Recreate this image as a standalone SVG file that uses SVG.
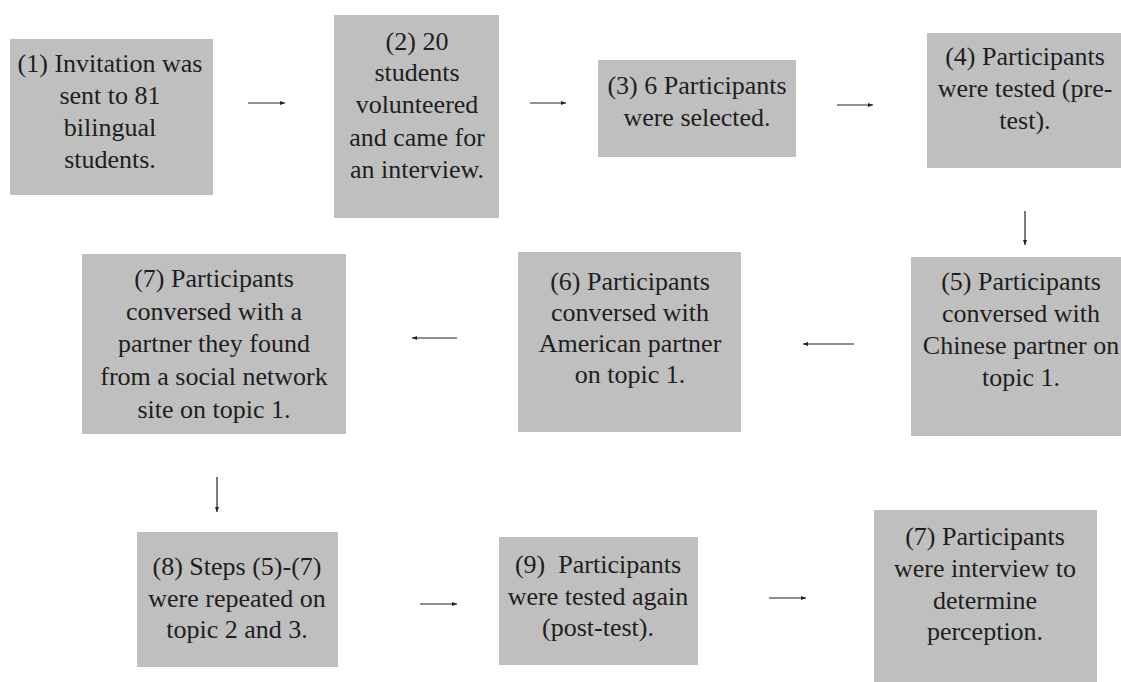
<svg xmlns="http://www.w3.org/2000/svg" width="1121" height="682" viewBox="0 0 1121 682">
<style>
.box{fill:#bfbfbf;}
.t{font-size:26px;fill:#1e1e1e;text-anchor:middle;}
.c{stroke:#222;stroke-width:1.2;fill:none;marker-end:url(#ah);}
</style>
<defs>
<marker id="ah" markerUnits="userSpaceOnUse" markerWidth="5" markerHeight="4" refX="5" refY="2" orient="auto">
<path d="M0,0 L5,2 L0,4 z" fill="#222"/>
</marker>
</defs>
<rect width="1121" height="682" fill="#ffffff"/>
<g id="connectors">
<line class="c" x1="248" y1="103" x2="285" y2="103"/>
<line class="c" x1="530" y1="103" x2="566" y2="103"/>
<line class="c" x1="837" y1="105" x2="873" y2="105"/>
<line class="c" x1="1025" y1="211" x2="1025" y2="245"/>
<line class="c" x1="854" y1="344" x2="803" y2="344"/>
<line class="c" x1="457" y1="338" x2="412" y2="338"/>
<line class="c" x1="217" y1="477" x2="217" y2="512"/>
<line class="c" x1="420" y1="604" x2="457" y2="604"/>
<line class="c" x1="769" y1="598" x2="806" y2="598"/>
</g>
<g font-family="Liberation Serif, DejaVu Serif, serif">
<g id="n1">
<rect class="box" x="10" y="39" width="203" height="156"/>
<text class="t" x="110" y="72">(1) Invitation was</text>
<text class="t" x="110" y="104">sent to 81</text>
<text class="t" x="110" y="136">bilingual</text>
<text class="t" x="110" y="168">students.</text>
</g>
<g id="n2">
<rect class="box" x="334" y="15" width="165" height="203"/>
<text class="t" x="417" y="50">(2) 20</text>
<text class="t" x="417" y="81">students</text>
<text class="t" x="417" y="113">volunteered</text>
<text class="t" x="417" y="146">and came for</text>
<text class="t" x="417" y="178">an interview.</text>
</g>
<g id="n3">
<rect class="box" x="598" y="60" width="198" height="97"/>
<text class="t" x="697" y="94">(3) 6 Participants</text>
<text class="t" x="697" y="126">were selected.</text>
</g>
<g id="n4">
<rect class="box" x="927" y="33" width="194" height="135"/>
<text class="t" x="1025" y="65">(4) Participants</text>
<text class="t" x="1025" y="97">were tested (pre-</text>
<text class="t" x="1025" y="129">test).</text>
</g>
<g id="n5">
<rect class="box" x="911" y="257" width="210" height="179"/>
<text class="t" x="1021" y="290">(5) Participants</text>
<text class="t" x="1021" y="322">conversed with</text>
<text class="t" x="1021" y="354">Chinese partner on</text>
<text class="t" x="1021" y="386">topic 1.</text>
</g>
<g id="n6">
<rect class="box" x="518" y="252" width="223" height="180"/>
<text class="t" x="630" y="290">(6) Participants</text>
<text class="t" x="630" y="321">conversed with</text>
<text class="t" x="630" y="352">American partner</text>
<text class="t" x="630" y="383">on topic 1.</text>
</g>
<g id="n7">
<rect class="box" x="82" y="254" width="264" height="180"/>
<text class="t" x="214" y="287">(7) Participants</text>
<text class="t" x="214" y="320">conversed with a</text>
<text class="t" x="214" y="352">partner they found</text>
<text class="t" x="214" y="385">from a social network</text>
<text class="t" x="214" y="418">site on topic 1.</text>
</g>
<g id="n8">
<rect class="box" x="137" y="532" width="201" height="135"/>
<text class="t" x="237" y="575">(8) Steps (5)-(7)</text>
<text class="t" x="237" y="607">were repeated on</text>
<text class="t" x="237" y="638">topic 2 and 3.</text>
</g>
<g id="n9">
<rect class="box" x="499" y="537" width="199" height="128"/>
<text class="t" x="598" y="573" xml:space="preserve">(9)  Participants</text>
<text class="t" x="598" y="605">were tested again</text>
<text class="t" x="598" y="636">(post-test).</text>
</g>
<g id="n10">
<rect class="box" x="874" y="510" width="223" height="172"/>
<text class="t" x="985" y="545">(7) Participants</text>
<text class="t" x="985" y="577">were interview to</text>
<text class="t" x="985" y="609">determine</text>
<text class="t" x="985" y="640">perception.</text>
</g>
</g>
</svg>
